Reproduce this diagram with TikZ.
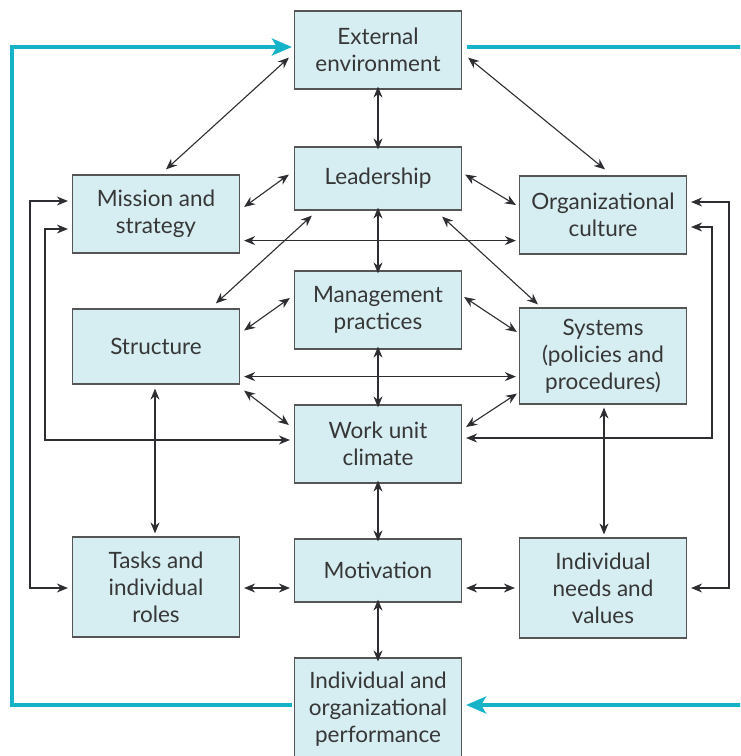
\documentclass[tikz,border=0pt]{standalone}
\usepackage{fontspec}
\setmainfont{Lato}
\usetikzlibrary{arrows.meta}
\definecolor{boxfill}{RGB}{214,238,242}
\definecolor{boxline}{RGB}{85,85,85}
\definecolor{txt}{RGB}{55,55,55}
\definecolor{loop}{RGB}{22,178,200}
\definecolor{arr}{RGB}{45,45,50}
\begin{document}
\begin{tikzpicture}[x=1pt,y=-1pt,
  box/.style={draw=boxline,fill=boxfill,line width=1.2pt,minimum width=167pt,
    inner sep=0pt,align=center,text=txt,font=\fontsize{22.5}{27}\selectfont},
  dbl/.style={draw=arr,line width=1.1pt,{Stealth[length=11pt,width=9pt]}-{Stealth[length=11pt,width=9pt]}},
  fb/.style={draw=loop,line width=4.5pt},
  fbarr/.style={draw=loop,line width=4.5pt,-{Stealth[length=20pt,width=17pt,inset=5pt]}}]
\clip (0,0) rectangle (740,756);
\fill[white] (0,0) rectangle (740,756);
% boxes
\node[box,minimum height=78pt] (ext) at (378,50) {External\\environment};
\node[box,minimum height=63pt] (lead) at (378,178.5) {Leadership};
\node[box,minimum height=78pt] (mis) at (156,214) {Mission and\\strategy};
\node[box,minimum height=78pt] (cul) at (603,215) {Organizational\\culture};
\node[box,minimum height=75pt] (str) at (156,346.5) {Structure};
\node[box,minimum height=78pt] (man) at (378,310) {Management\\practices};
\node[box,minimum height=96pt] (sys) at (603,356) {Systems\\(policies and\\procedures)};
\node[box,minimum height=78pt] (wuc) at (378,444) {Work unit\\climate};
\node[box,minimum height=100pt] (tsk) at (156,587) {Tasks and\\individual\\roles};
\node[box,minimum height=63pt] (mot) at (378,570.5) {Motivation};
\node[box,minimum height=100pt] (ind) at (603,588) {Individual\\needs and\\values};
\node[box,minimum height=102pt] (perf) at (378,709) {Individual and\\organizational\\performance};
% connectors
\draw[dbl] ([shift={(-5,-32)}]ext.south west) -- ([shift={(10,-5)}]mis.north);
\draw[dbl] ([yshift=3]ext.south) -- ([yshift=-3]lead.north);
\draw[dbl] ([shift={(6,-32)}]ext.south east) -- ([shift={(2,-6)}]cul.north);
\draw[dbl] ([shift={(-5,-4)}]lead.west) -- ([shift={(4,-7)}]mis.east);
\draw[dbl] ([shift={(3,-4)}]lead.east) -- ([shift={(-3,-10)}]cul.west);
\draw[dbl] ([shift={(4,-13)}]mis.south east) -- ([shift={(-3,-14)}]cul.south west);
\draw[dbl] ([shift={(18,5)}]lead.south west) -- ([shift={(144,-5)}]str.north west);
\draw[dbl] ([shift={(-20,6)}]lead.south east) -- ([shift={(19,-3)}]sys.north west);
\draw[dbl] ([yshift=3]lead.south) -- ([yshift=-3]man.north);
\draw[dbl] ([shift={(-4,-12)}]man.west) -- ([shift={(4,-16)}]str.east);
\draw[dbl] ([shift={(2,-13)}]man.east) -- ([shift={(-2,-24)}]sys.west);
\draw[dbl] ([shift={(4,-8)}]str.south east) -- ([shift={(-3,-28)}]sys.south west);
\draw[dbl] ([yshift=3]man.south) -- ([yshift=-3]wuc.north);
\draw[dbl] ([shift={(4,6)}]str.south east) -- ([shift={(-5,-19)}]wuc.west);
\draw[dbl] ([shift={(-2,-11)}]sys.south west) -- ([shift={(4,-17)}]wuc.east);
\draw[dbl] ([shift={(-1,4)}]str.south) -- ([shift={(-1,-3)}]tsk.north);
\draw[dbl] ([shift={(1,3)}]sys.south) -- ([shift={(1,-3)}]ind.north);
\draw[dbl] ([yshift=3]wuc.south) -- ([yshift=-3]mot.north);
\draw[dbl] ([shift={(4,1)}]tsk.east) -- ([shift={(-4,17.5)}]mot.west);
\draw[dbl] ([shift={(4,17.5)}]mot.east) -- ([shift={(-4,0)}]ind.west);
\draw[dbl] ([yshift=3]mot.south) -- ([yshift=-4]perf.north);
% elbow feedback lines
\draw[dbl] ([shift={(-4,-13)}]mis.west) -- (30,201) -- (30,588) -- ([shift={(-4,1)}]tsk.west);
\draw[dbl] ([shift={(-4,15)}]mis.west) -- (45,229) -- (45,440) -- ([shift={(-4,-4)}]wuc.west);
\draw[dbl] ([shift={(4,-13)}]cul.east) -- (729,202) -- (729,588) -- ([shift={(4,0)}]ind.east);
\draw[dbl] ([shift={(4,12)}]cul.east) -- (712,227) -- (712,438) -- ([shift={(4,-6)}]wuc.east);
% cyan loop
\draw[fbarr] ([shift={(-2,-4)}]perf.west) -- (12,705) -- (12,47) -- ([shift={(-2,-3)}]ext.west);
\draw[fb] ([shift={(5,-3)}]ext.east) -- (750,47);
\draw[fbarr] (750,705) -- ([shift={(4,-4)}]perf.east);
\end{tikzpicture}
\end{document}
